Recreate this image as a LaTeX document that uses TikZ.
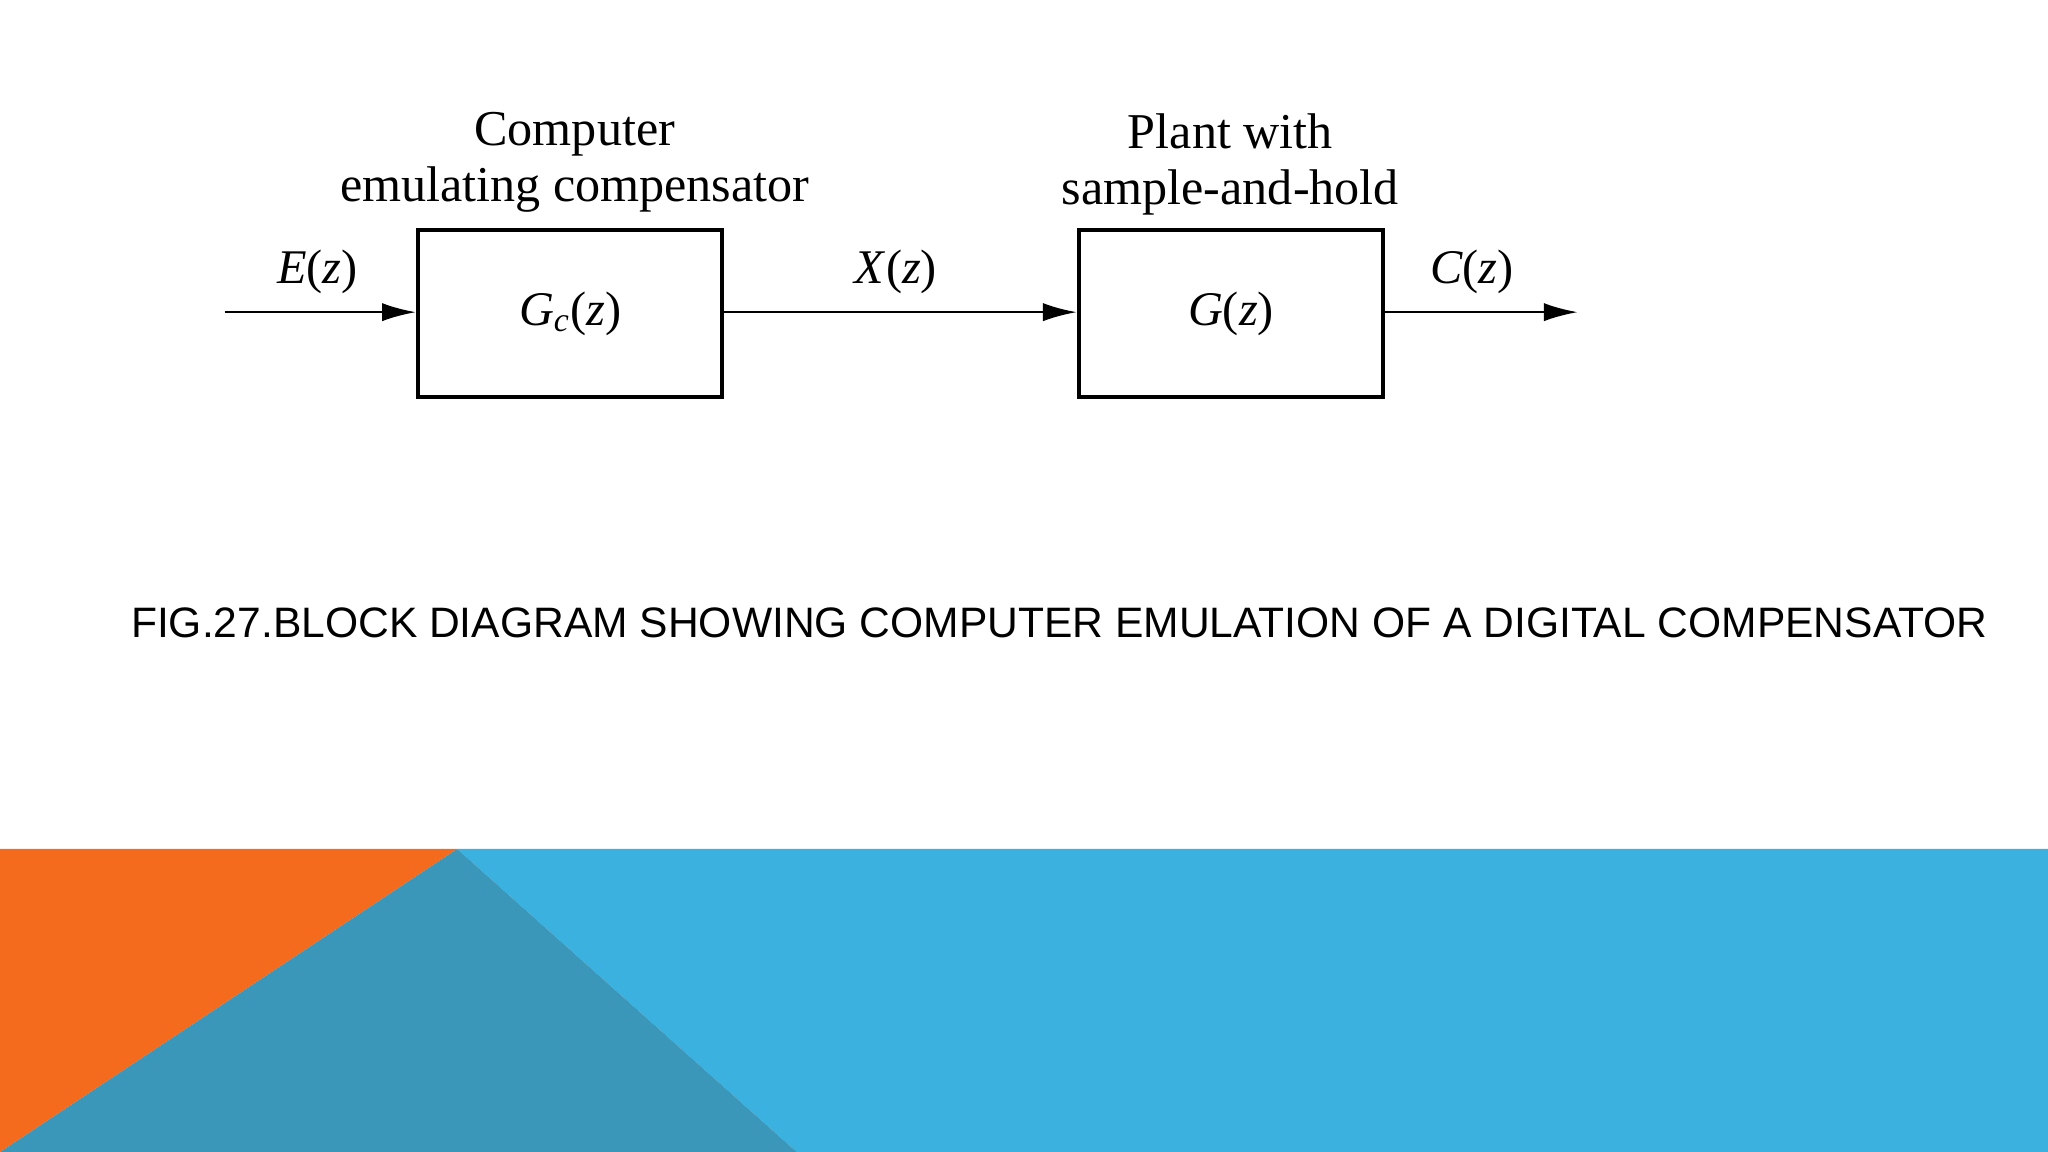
\documentclass[tikz,border=0pt]{standalone}
\usepackage{fontspec}
\setmainfont{Liberation Serif}
\newfontfamily\capfont{Liberation Sans}
\usetikzlibrary{arrows.meta}
\definecolor{orng}{HTML}{F46B1E}
\definecolor{lblue}{HTML}{3BB1E0}
\definecolor{teal2}{HTML}{3A97BA}
\begin{document}
\begin{tikzpicture}[x=0.5pt,y=-0.5pt,
  blk/.style={draw,line width=1.5pt,minimum width=116.5pt,minimum height=64pt,inner sep=0pt,font=\fontsize{18.5}{20}\selectfont},
  lbl/.style={font=\fontsize{18.5}{20}\selectfont},
  ttl/.style={align=center,font=\fontsize{19.2}{21.5}\selectfont},
  arr/.style={line width=1pt,-{Latex[length=13pt,width=7pt]}}]
\useasboundingbox (0,0) rectangle (1568,882);
\fill[white] (0,0) rectangle (1568,882);
\fill[lblue] (350,650) -- (1568,650) -- (1568,882) -- (610,882) -- cycle;
\fill[orng] (0,650) -- (350,650) -- (0,882) -- cycle;
\fill[teal2] (350,650) -- (610,882) -- (0,882) -- cycle;
\node[blk] (gc) at (436.5,240) {\textit{G}\textsubscript{\textit{c}}(\textit{z})};
\node[blk] (g) at (942.5,240) {\textit{G}(\textit{z})};
\coordinate (in) at (172,239);
\coordinate (out) at (1208,239);
\draw[arr] (in) -- (gc.west|-in);
\draw[arr] (gc.east|-in) -- (g.west|-in);
\draw[arr] (g.east|-in) -- (out);
\node[lbl] (e) at (243,208) {\textit{E}(\textit{z})};
\node[lbl] (x) at (686,208) {\textit{X}(\textit{z})};
\node[lbl] (c) at (1127,208) {\textit{C}(\textit{z})};
\node[ttl] (t1) at (440,124) {Computer\\emulating compensator};
\node[ttl] (t2) at (942,126) {Plant with\\sample-and-hold};
\node[font=\capfont\fontsize{16.3}{18}\selectfont] (cap) at (811,477) {FIG.27.BLOCK DIAGRAM SHOWING COMPUTER EMULATION OF A DIGITAL COMPENSATOR};
\end{tikzpicture}
\end{document}
